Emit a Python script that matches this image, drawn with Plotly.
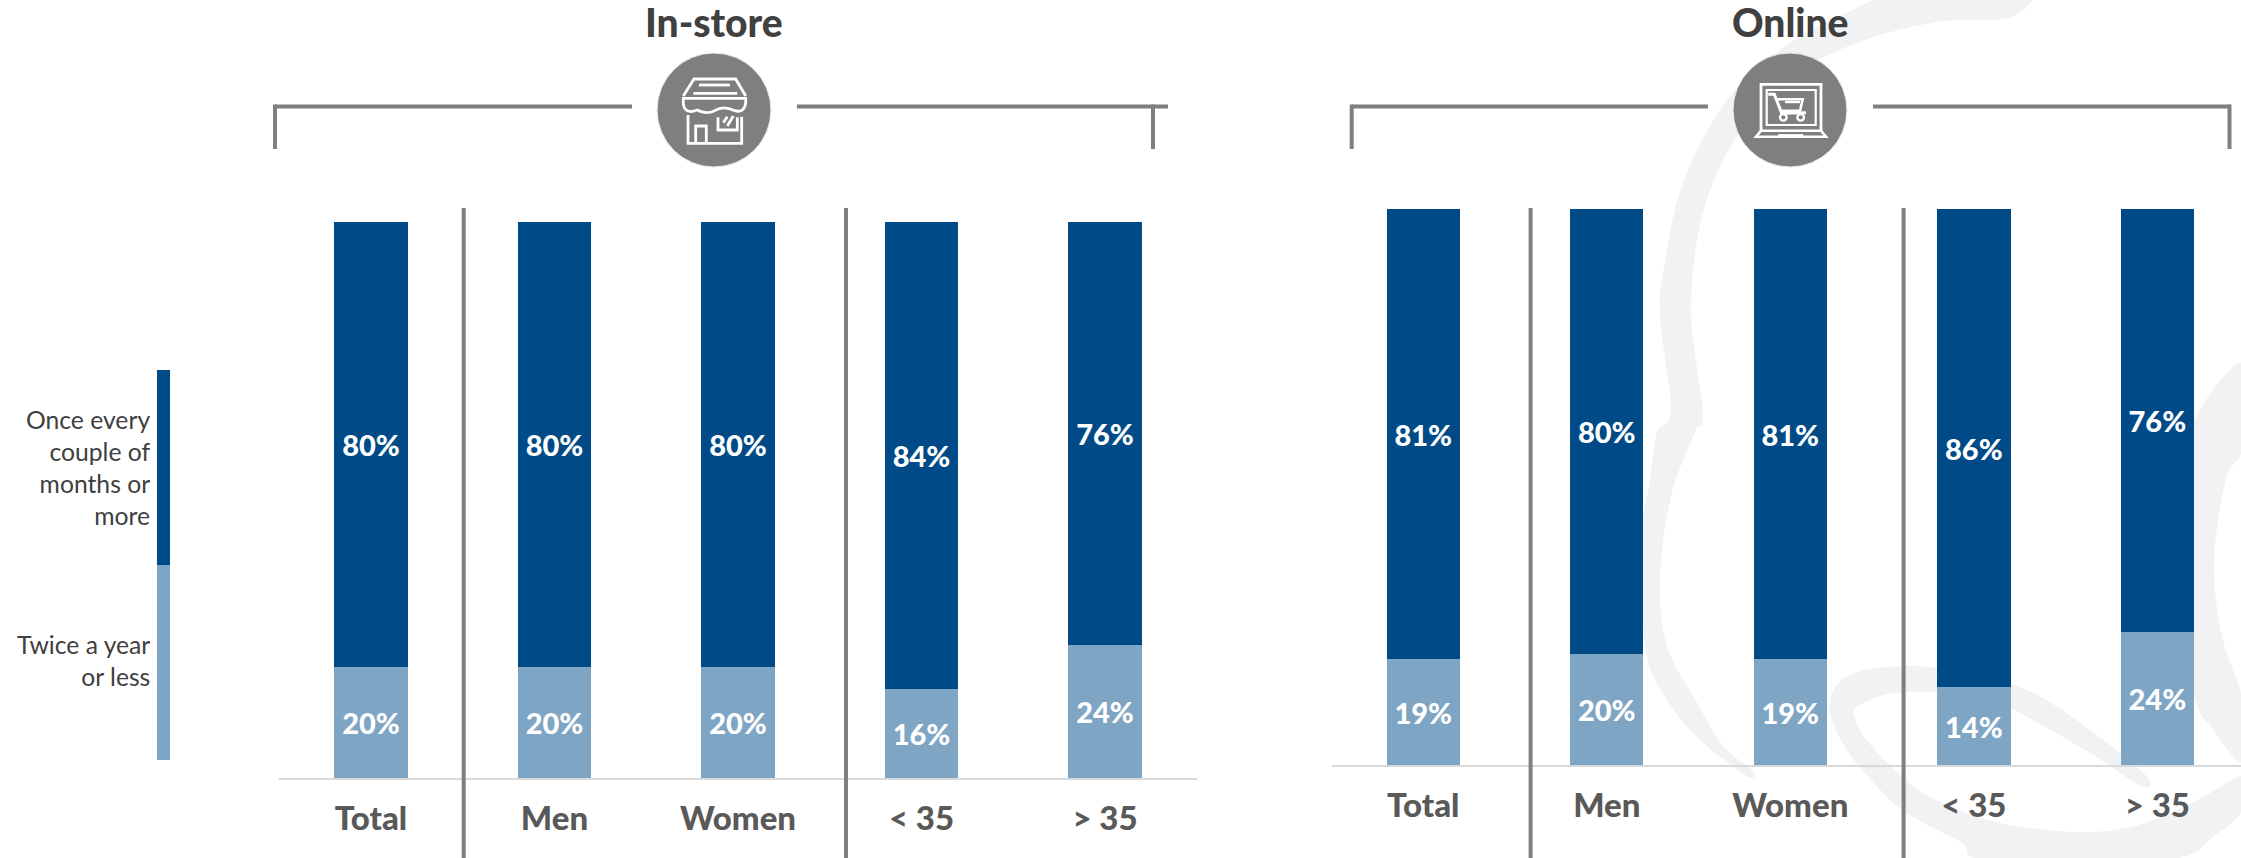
import plotly.graph_objects as go

# Survey results: purchase frequency split by channel and respondent group
categories = ["Total", "Men", "Women", "< 35", "> 35"]
instore_rare = [20, 20, 20, 16, 24]
instore_frequent = [80, 80, 80, 84, 76]
online_rare = [19, 20, 19, 14, 24]
online_frequent = [81, 80, 81, 86, 76]

DARK = "#004B87"
LIGHT = "#7FA5C5"
GREY = "#7F7F7F"
SWIRL = "#F1F2F4"
FONT = "Lato"
W, H = 2241, 858


def smooth(points, closed=True, tension=0.5):
    """Catmull-Rom spline through points, as an SVG path."""
    n = len(points)
    path = f"M{points[0][0]:.1f},{points[0][1]:.1f}"
    for i in range(n if closed else n - 1):
        p0 = points[(i - 1) % n]
        p1 = points[i]
        p2 = points[(i + 1) % n]
        p3 = points[(i + 2) % n]
        c1 = (p1[0] + (p2[0] - p0[0]) * tension / 3, p1[1] + (p2[1] - p0[1]) * tension / 3)
        c2 = (p2[0] - (p3[0] - p1[0]) * tension / 3, p2[1] - (p3[1] - p1[1]) * tension / 3)
        path += f" C{c1[0]:.1f},{c1[1]:.1f} {c2[0]:.1f},{c2[1]:.1f} {p2[0]:.1f},{p2[1]:.1f}"
    return path + (" Z" if closed else "")


def polyline(ox, oy, pts, closed=False):
    """Straight segments in icon units (1/3 px) placed at origin ox, oy."""
    s = "M" + " L".join(f"{ox + x / 3:.1f},{oy + y / 3:.1f}" for x, y in pts)
    return s + (" Z" if closed else "")


shapes = []


def line(x0, y0, x1, y1, color=GREY, width=4):
    shapes.append(dict(type="line", xref="x", yref="y", x0=x0, y0=y0, x1=x1, y1=y1,
                       line=dict(color=color, width=width), layer="above"))


def rect(x0, y0, x1, y1, color):
    shapes.append(dict(type="rect", xref="x", yref="y", x0=x0, y0=y0, x1=x1, y1=y1,
                       fillcolor=color, line=dict(width=0), layer="above"))


def stroke(path, width=2.8):
    shapes.append(dict(type="path", xref="x", yref="y", path=path,
                       line=dict(color="white", width=width), layer="above"))


def swirl(points):
    shapes.append(dict(type="path", xref="x", yref="y", path=smooth(points), fillcolor=SWIRL,
                       line=dict(width=0), layer="below"))


# Pale backdrop flourish behind the online panel
swirl([(1950, -40), (1873, 0), (1790, 43), (1727, 100), (1683, 183), (1664, 267), (1660, 317), (1671, 410),
       (1657, 432), (1650, 479), (1642, 529), (1642, 596), (1648, 662), (1671, 706), (1699, 739),
       (1739, 771), (1751, 778), (1753, 771), (1723, 746), (1695, 699), (1667, 646), (1660, 579),
       (1671, 496), (1695, 432), (1703, 413), (1691, 310), (1703, 213), (1739, 133), (1798, 73),
       (1865, 40), (1937, 22), (2016, 15), (2038, -30)])
swirl([(2149, 779), (2115, 749), (2056, 706), (2016, 686), (1957, 671), (1905, 666), (1858, 672),
       (1836, 686), (1830, 712), (1846, 749), (1873, 782), (1905, 812), (1961, 842), (1988, 860),
       (2166, 860), (2214, 836), (2243, 809), (2243, 776), (2194, 802), (2135, 826), (2075, 832),
       (1996, 822), (1933, 799), (1897, 772), (1866, 739), (1854, 716), (1858, 706), (1889, 694),
       (1937, 692), (1996, 702), (2036, 722), (2095, 756), (2141, 786)])
swirl([(2243, 363), (2198, 413), (2185, 470), (2180, 540), (2193, 689), (2213, 729), (2243, 762),
       (2243, 702), (2222, 636), (2214, 562), (2226, 479), (2243, 446)])

# Brackets above each panel
line(275, 106.5, 632, 106.5)
line(797, 106.5, 1168, 106.5)
line(275, 104.5, 275, 149)
line(1153, 104.5, 1153, 149)
line(1351.7, 106.5, 1708, 106.5)
line(1873, 106.5, 2231, 106.5)
line(1351.7, 104.5, 1351.7, 149)
line(2229.5, 104.5, 2229.5, 149)

# Group separators
for xpos in (463.7, 846):
    line(xpos, 208, xpos, H)
for xpos in (1530.6, 1903.6):
    line(xpos, 208, xpos, H)

# Channel badges
for cx in (714, 1790):
    shapes.append(dict(type="circle", xref="x", yref="y", x0=cx - 57, x1=cx + 57, y0=53, y1=167,
                       fillcolor=GREY, line=dict(color="#EFEFEF", width=1), layer="above"))

# Shop front icon
ox, oy = 664, 60
stroke(polyline(ox, oy, [(58, 108), (90, 57), (215, 57), (245, 108)]))
stroke(polyline(ox, oy, [(105, 75), (198, 75)]))
stroke(polyline(ox, oy, [(88, 100), (220, 100)]))
stroke(f"M{ox + 58 / 3:.1f},{oy + 115 / 3:.1f} L{ox + 245 / 3:.1f},{oy + 115 / 3:.1f} "
       f"L{ox + 245 / 3:.1f},{oy + 130 / 3:.1f} "
       f"Q{ox + 240 / 3:.1f},{oy + 160 / 3:.1f} {ox + 212 / 3:.1f},{oy + 152 / 3:.1f} "
       f"Q{ox + 178 / 3:.1f},{oy + 135 / 3:.1f} {ox + 152 / 3:.1f},{oy + 152 / 3:.1f} "
       f"Q{ox + 125 / 3:.1f},{oy + 165 / 3:.1f} {ox + 100 / 3:.1f},{oy + 150 / 3:.1f} "
       f"Q{ox + 62 / 3:.1f},{oy + 165 / 3:.1f} {ox + 58 / 3:.1f},{oy + 130 / 3:.1f} Z")
stroke(polyline(ox, oy, [(72, 165), (72, 250), (233, 250), (233, 170)]))
stroke(polyline(ox, oy, [(95, 250), (95, 198), (127, 198), (127, 250)]))
stroke(polyline(ox, oy, [(162, 172), (162, 210), (220, 210), (220, 172)]))
stroke(polyline(ox, oy, [(178, 188), (190, 170)]))
stroke(polyline(ox, oy, [(190, 198), (208, 168)]))

# Laptop and trolley icon
ox, oy = 1740, 60
stroke(polyline(ox, oy, [(63, 212), (63, 73), (243, 73), (243, 212)]))
stroke(polyline(ox, oy, [(80, 90), (227, 90), (227, 195), (80, 195)], closed=True), 2.2)
stroke(polyline(ox, oy, [(63, 212), (243, 212), (258, 230), (48, 230)], closed=True), 2.6)
stroke(polyline(ox, oy, [(115, 226), (190, 226)]), 2.4)
stroke(polyline(ox, oy, [(85, 103), (103, 103), (125, 160), (198, 158)]), 3)
stroke(polyline(ox, oy, [(112, 118), (188, 118), (180, 152), (124, 152)]), 2.6)
stroke(polyline(ox, oy, [(135, 126), (180, 126)]), 2.4)
for wx in (130, 182):
    shapes.append(dict(type="circle", xref="x", yref="y",
                       x0=ox + (wx - 10) / 3, x1=ox + (wx + 10) / 3,
                       y0=oy + 162 / 3, y1=oy + 182 / 3,
                       line=dict(color="white", width=2.4), layer="above"))

# Legend colour strip
rect(157, 370, 170, 565, DARK)
rect(157, 565, 170, 760, LIGHT)

annotations = []


def label(text, x, y, size, color, weight="normal", xanchor="center", align="center"):
    annotations.append(dict(text=text, x=x, y=y, xref="x", yref="y", showarrow=False,
                            xanchor=xanchor, yanchor="middle", align=align,
                            font=dict(family=FONT, size=size, color=color, weight=weight)))


label("In-store", 714, 22, 39, "#404040", 900)
label("Online", 1790, 22, 39, "#404040", 900)
label("Once every<br>couple of<br>months or<br>more", 152, 467, 24.7, "#404040",
      xanchor="right", align="right")
label("Twice a year<br>or less", 152, 660, 24.7, "#404040", xanchor="right", align="right")

fig = go.Figure()


def add_panel(xaxis, yaxis, rare, frequent):
    for values, color, name in ((rare, LIGHT, "Twice a year or less"),
                                (frequent, DARK, "Once every couple of months or more")):
        fig.add_trace(go.Bar(
            x=categories, y=values, name=name, xaxis=xaxis, yaxis=yaxis,
            marker=dict(color=color, line=dict(width=0)),
            text=[f"{v}%" for v in values], textposition="inside",
            insidetextanchor="middle", textangle=0, constraintext="none",
            insidetextfont=dict(family=FONT, size=29, color="white", weight=900),
            showlegend=False, hoverinfo="x+y",
        ))


add_panel("x2", "y2", instore_rare, instore_frequent)
add_panel("x3", "y3", online_rare, online_frequent)


def cat_axis(domain, xrange, anchor):
    return dict(domain=domain, range=xrange, type="category", anchor=anchor,
                categoryorder="array", categoryarray=categories,
                showgrid=False, zeroline=False, showline=True, linecolor="#D9D9D9", linewidth=2,
                ticks="", ticklabelstandoff=10, fixedrange=True,
                tickfont=dict(family=FONT, size=33, color="#595959", weight=900))


def val_axis(bottom_px, top_px, anchor):
    return dict(domain=[1 - bottom_px / H, 1 - top_px / H], range=[0, 100], anchor=anchor,
                visible=False, showgrid=False, zeroline=False, fixedrange=True)


fig.update_layout(
    width=W, height=H, autosize=False, margin=dict(l=0, r=0, t=0, b=0),
    paper_bgcolor="white", plot_bgcolor="rgba(0,0,0,0)",
    barmode="stack", bargap=0.6,
    # Full-canvas pixel axes that carry the decorations
    xaxis=dict(domain=[0, 1], range=[0, W], visible=False, fixedrange=True, anchor="y"),
    yaxis=dict(domain=[0, 1], range=[H, 0], visible=False, fixedrange=True, anchor="x"),
    xaxis2=cat_axis([279.25 / W, 1196.75 / W], [-0.5, 4.5], "y2"),
    yaxis2=val_axis(778, 222, "x2"),
    xaxis3=cat_axis([1331.5 / W, 1], [-0.5, 4.456], "y3"),
    yaxis3=val_axis(765, 209, "x3"),
    shapes=shapes, annotations=annotations,
)

fig.write_html("out.html", config=dict(displayModeBar=False))
